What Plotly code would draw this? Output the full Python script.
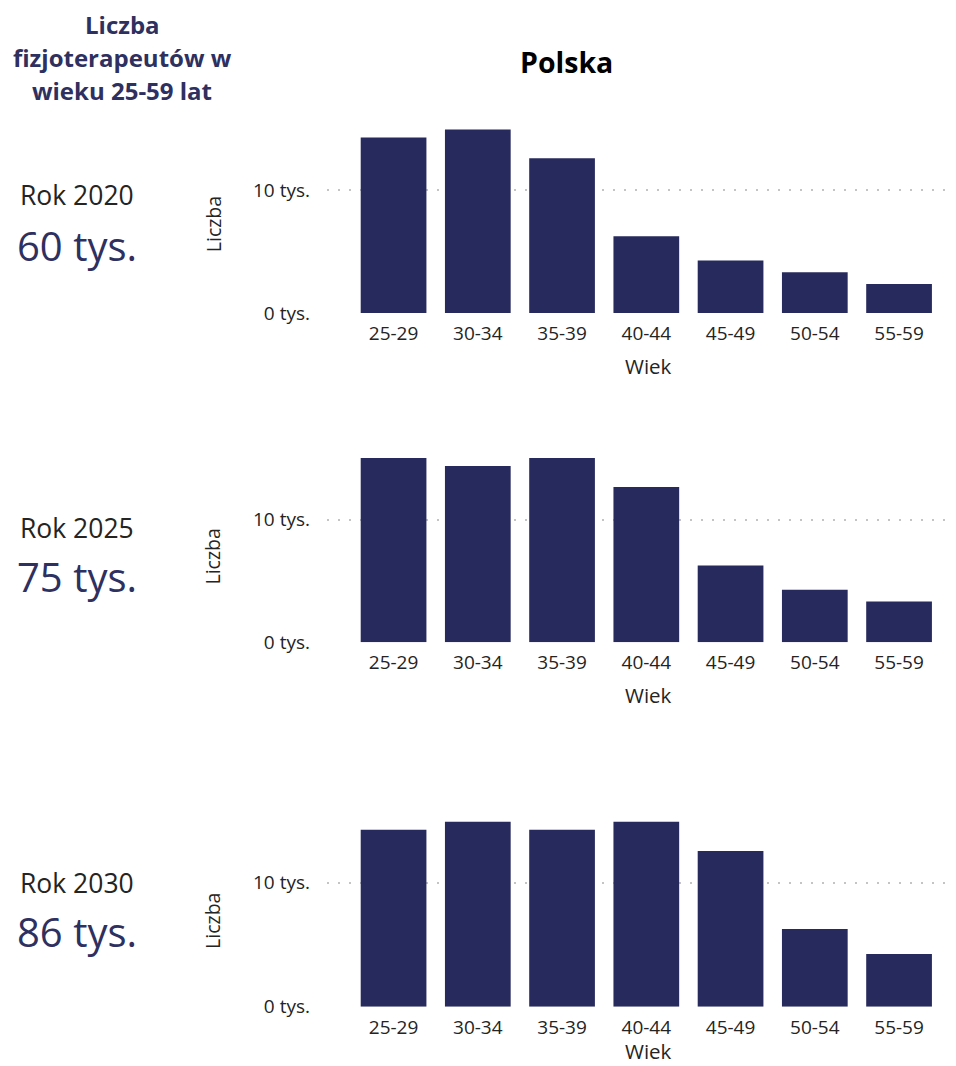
import plotly.graph_objects as go

# ---- data (thousands) ----
age_groups = ["25-29", "30-34", "35-39", "40-44", "45-49", "50-54", "55-59"]
values_2020 = [14.3, 14.95, 12.6, 6.25, 4.27, 3.32, 2.36]
values_2025 = [15.0, 14.35, 15.0, 12.65, 6.25, 4.28, 3.32]
values_2030 = [14.25, 14.9, 14.25, 14.9, 12.55, 6.25, 4.25]
years = ["Rok 2020", "Rok 2025", "Rok 2030"]
totals = ["60 tys.", "75 tys.", "86 tys."]
ytick_vals = [0, 10]
ytick_text = ["0 tys.", "10 tys."]

SY = 0.987       # observed vertical scale of the photograph
W = 956
H = int(round(1066 / SY))
FONT = "Open Sans"
BAR = "#272A5C"
NAVY = "#2E305F"
TXT = "#252423"


def py(px):
    return 1 - (px / SY) / H


def pxx(px):
    return px / W


fig = go.Figure()

series = [values_2020, values_2025, values_2030]
# (zero pixel, top pixel) in picture coordinates
ydoms = [(312.7, 125.0), (641.7, 454.0), (1005.7, 816.0)]
xdom = [pxx(327), pxx(953)]
xr = [-0.79, -0.79 + 626 / 84.25]

for i, vals in enumerate(series):
    n = "" if i == 0 else str(i + 1)
    fig.add_trace(go.Bar(x=age_groups, y=vals, marker_color=BAR,
                         marker_line_width=0, xaxis="x" + n, yaxis="y" + n,
                         showlegend=False, hoverinfo="skip"))
    z, t = ydoms[i]
    fig.layout["xaxis" + n] = dict(
        domain=xdom, anchor="y" + n, range=xr, type="category",
        showgrid=False, zeroline=False, showline=False, ticks="",
        tickfont=dict(family=FONT, size=19, color=TXT),
        ticklabelstandoff=7,
    )
    fig.layout["yaxis" + n] = dict(
        domain=[py(z), py(t)], anchor="x" + n, range=[0, 15.3],
        tickvals=ytick_vals, ticktext=ytick_text,
        showgrid=True, gridcolor="#C4C4C4", gridwidth=1.6,
        griddash="2px,9px", zeroline=False, showline=False, ticks="",
        tickfont=dict(family=FONT, size=19, color=TXT),
        ticklabelstandoff=16,
    )

fig.update_layout(bargap=0.22)

ann = []
# header (three lines, placed separately for the wide line spacing)
for txt, yc in [("Liczba", 24), ("fizjoterapeutów w", 57), ("wieku 25-59 lat", 90)]:
    ann.append(dict(text="<b>" + txt + "</b>", x=pxx(122), y=py(yc), xref="paper",
                    yref="paper", xanchor="center", yanchor="middle", showarrow=False,
                    font=dict(family=FONT, size=24, color=NAVY)))
# title
ann.append(dict(text="<b>Polska</b>", x=pxx(566), y=py(62), xref="paper", yref="paper",
                xanchor="center", yanchor="middle", showarrow=False,
                font=dict(family=FONT, size=28.5, color="#000000")))

rok_y = [195, 527, 882]
tot_y = [245, 576, 931]
liczba_y = [224, 556, 920]
wiek_pos = [(py(366), "middle"), (py(694), "middle"), (0.0, "bottom")]
for i in range(3):
    ann.append(dict(text=years[i], x=pxx(77), y=py(rok_y[i]), xref="paper", yref="paper",
                    xanchor="center", yanchor="middle", showarrow=False,
                    font=dict(family=FONT, size=26.5, color=TXT)))
    ann.append(dict(text=totals[i], x=pxx(77), y=py(tot_y[i]), xref="paper", yref="paper",
                    xanchor="center", yanchor="middle", showarrow=False,
                    font=dict(family=FONT, size=40, color=NAVY)))
    ann.append(dict(text="Wiek", x=pxx(648), y=wiek_pos[i][0], xref="paper", yref="paper",
                    xanchor="center", yanchor=wiek_pos[i][1], showarrow=False,
                    font=dict(family=FONT, size=20.5, color=TXT)))
    ann.append(dict(text="Liczba", x=pxx(213), y=py(liczba_y[i]), xref="paper", yref="paper",
                    xanchor="center", yanchor="middle", showarrow=False, textangle=-90,
                    font=dict(family=FONT, size=19.5, color=TXT)))

fig.update_layout(
    width=W, height=H, margin=dict(l=0, r=0, t=0, b=0),
    paper_bgcolor="white", plot_bgcolor="white",
    annotations=ann, font=dict(family=FONT),
)

fig.write_html("out.html", config={"displayModeBar": False},
               post_script="document.body.style.margin='0px';")
